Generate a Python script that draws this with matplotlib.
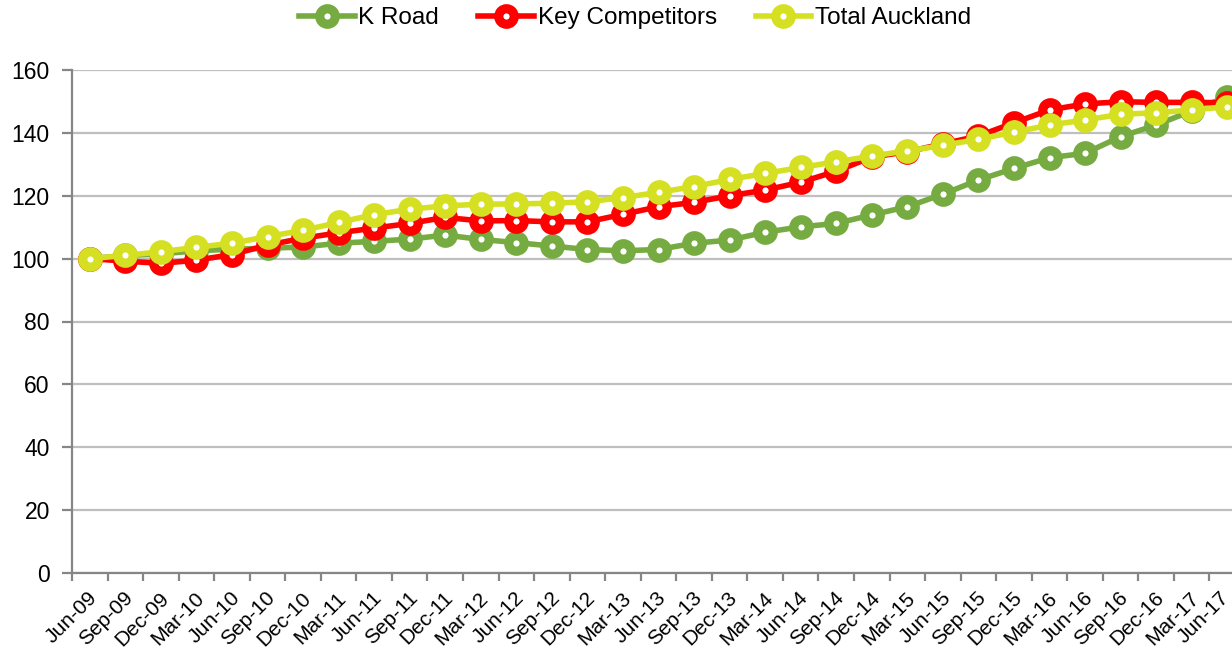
import matplotlib
matplotlib.use("Agg")
import matplotlib.pyplot as plt
from matplotlib.transforms import ScaledTranslation

plt.rcParams['font.family'] = ['Liberation Sans', 'DejaVu Sans']

quarters = ["Jun-09", "Sep-09", "Dec-09", "Mar-10", "Jun-10", "Sep-10", "Dec-10",
            "Mar-11", "Jun-11", "Sep-11", "Dec-11", "Mar-12", "Jun-12", "Sep-12",
            "Dec-12", "Mar-13", "Jun-13", "Sep-13", "Dec-13", "Mar-14", "Jun-14",
            "Sep-14", "Dec-14", "Mar-15", "Jun-15", "Sep-15", "Dec-15", "Mar-16",
            "Jun-16", "Sep-16", "Dec-16", "Mar-17", "Jun-17"]

k_road = [100, 101, 101.5, 102.5, 103, 103.3, 103.7, 104.9, 105.5, 106.2, 107.5,
          106.1, 105.1, 104, 102.9, 102.5, 102.9, 104.9, 105.9, 108.4, 110.1,
          111.2, 113.9, 116.5, 120.5, 125, 128.7, 132.1, 133.5, 138.8, 142.5,
          147, 151.5]
key_competitors = [100, 99.2, 98.5, 99.5, 101.3, 104.3, 106.5, 108.2, 109.7, 111.2,
                   113.1, 112, 112.1, 111.7, 111.7, 114.1, 116.5, 117.9, 120, 121.8,
                   124.3, 127.8, 132.3, 134, 136.5, 139, 143.2, 147.3, 149.2, 149.9,
                   149.7, 149.7, 149.6]
total_auckland = [100, 101, 102.2, 103.6, 104.9, 107, 109, 111.5, 114, 115.7, 116.8,
                  117.3, 117.4, 117.6, 118.1, 119.4, 121.1, 122.9, 125.2, 127.1, 129,
                  130.8, 132.6, 134.3, 136, 138, 140.2, 142.5, 144.1, 145.9, 146.4,
                  147.3, 148.3]

series = [("K Road", k_road, "#76AB41"),
          ("Key Competitors", key_competitors, "#FF0000"),
          ("Total Auckland", total_auckland, "#D5E022")]

W, H = 1232, 650
fig = plt.figure(figsize=(W / 100, H / 100), dpi=100)
ax = fig.add_axes([72 / W, 77 / H, 1173 / W, 503 / H])

x = list(range(len(quarters)))
for name, vals, col in series:
    ax.plot(x, vals, color=col, lw=4, marker='o', ms=11.2, mew=6.6,
            mfc='white', mec=col, label=name, solid_joinstyle='round', clip_on=False)

ax.set_xlim(-0.5, len(quarters) - 0.5)
ax.set_ylim(0, 160)
ax.set_yticks(range(0, 161, 20))
ax.yaxis.grid(True, color='#BFBFBF', lw=1.6)
ax.set_axisbelow(True)

for s in ['top', 'right']:
    ax.spines[s].set_visible(False)
for s in ['left', 'bottom']:
    ax.spines[s].set_color('#868686')
    ax.spines[s].set_linewidth(1.6)

ax.set_xticks([i - 0.5 for i in range(len(quarters) + 1)])
ax.set_xticklabels([])
ax.set_xticks(x, minor=True)
ax.set_xticklabels(quarters, minor=True, rotation=45, ha='right', va='top',
                   rotation_mode='anchor', fontsize=15)
ax.tick_params(axis='x', which='major', length=6, width=1.6, color='#868686')
ax.tick_params(axis='x', which='minor', length=0, pad=11)
ax.tick_params(axis='y', length=7, width=1.6, color='#868686', labelsize=16.5, pad=9)

labels = ax.get_xticklabels(minor=True)
for i, lbl in enumerate(labels):
    dx = -8 if i == len(labels) - 1 else -2
    lbl.set_transform(lbl.get_transform() + ScaledTranslation(dx / 100, 0, fig.dpi_scale_trans))

leg = fig.legend(loc='center', bbox_to_anchor=(635 / W, 1 - 18 / H), ncol=3,
                 frameon=False, fontsize=17.5, handlelength=2.3, handletextpad=0.15,
                 columnspacing=1.6)

fig.savefig("out.png", dpi=100)
